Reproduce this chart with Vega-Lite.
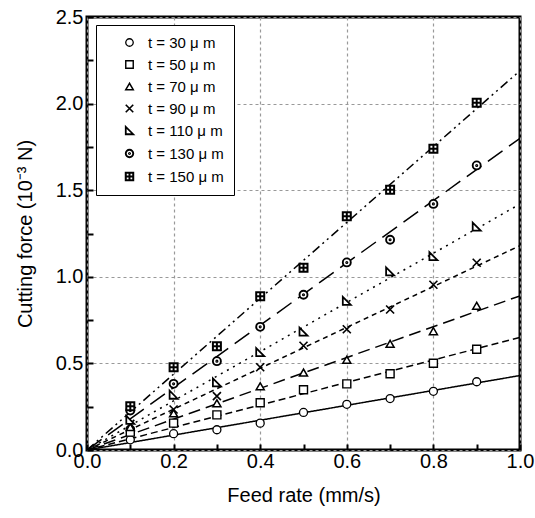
{
  "$schema": "https://vega.github.io/schema/vega-lite/v6.json",
  "width": 433,
  "height": 433,
  "autosize": {"type": "none"},
  "padding": {"left": 87, "top": 17, "right": 15, "bottom": 68},
  "config": {
    "font": "Liberation Sans",
    "view": {"stroke": "black", "strokeWidth": 3},
    "axis": {
      "domain": false,
      "tickColor": "black",
      "tickWidth": 2,
      "tickSize": -6,
      "labelColor": "black",
      "titleColor": "black",
      "labelFontSize": 20,
      "titleFontSize": 20,
      "titleFontWeight": "normal",
      "labelFlush": false,
      "labelOverlap": false,
      "grid": true,
      "gridColor": "#999999",
      "gridDash": [3, 3],
      "gridWidth": 1.2
    }
  },
  "datasets": {
    "points": [
      {"series": "t = 30 μ m", "x": 0.1, "y": 0.059},
      {"series": "t = 30 μ m", "x": 0.2, "y": 0.094},
      {"series": "t = 30 μ m", "x": 0.3, "y": 0.117},
      {"series": "t = 30 μ m", "x": 0.4, "y": 0.155},
      {"series": "t = 30 μ m", "x": 0.5, "y": 0.217},
      {"series": "t = 30 μ m", "x": 0.6, "y": 0.264},
      {"series": "t = 30 μ m", "x": 0.7, "y": 0.297},
      {"series": "t = 30 μ m", "x": 0.8, "y": 0.339},
      {"series": "t = 30 μ m", "x": 0.9, "y": 0.394},
      {"series": "t = 50 μ m", "x": 0.1, "y": 0.103},
      {"series": "t = 50 μ m", "x": 0.2, "y": 0.155},
      {"series": "t = 50 μ m", "x": 0.3, "y": 0.203},
      {"series": "t = 50 μ m", "x": 0.4, "y": 0.273},
      {"series": "t = 50 μ m", "x": 0.5, "y": 0.348},
      {"series": "t = 50 μ m", "x": 0.6, "y": 0.382},
      {"series": "t = 50 μ m", "x": 0.7, "y": 0.44},
      {"series": "t = 50 μ m", "x": 0.8, "y": 0.501},
      {"series": "t = 50 μ m", "x": 0.9, "y": 0.582},
      {"series": "t = 70 μ m", "x": 0.1, "y": 0.132},
      {"series": "t = 70 μ m", "x": 0.2, "y": 0.212},
      {"series": "t = 70 μ m", "x": 0.3, "y": 0.27},
      {"series": "t = 70 μ m", "x": 0.4, "y": 0.368},
      {"series": "t = 70 μ m", "x": 0.5, "y": 0.447},
      {"series": "t = 70 μ m", "x": 0.6, "y": 0.521},
      {"series": "t = 70 μ m", "x": 0.7, "y": 0.613},
      {"series": "t = 70 μ m", "x": 0.8, "y": 0.686},
      {"series": "t = 70 μ m", "x": 0.9, "y": 0.833},
      {"series": "t = 90 μ m", "x": 0.1, "y": 0.151},
      {"series": "t = 90 μ m", "x": 0.2, "y": 0.234},
      {"series": "t = 90 μ m", "x": 0.3, "y": 0.311},
      {"series": "t = 90 μ m", "x": 0.4, "y": 0.478},
      {"series": "t = 90 μ m", "x": 0.5, "y": 0.602},
      {"series": "t = 90 μ m", "x": 0.6, "y": 0.697},
      {"series": "t = 90 μ m", "x": 0.7, "y": 0.811},
      {"series": "t = 90 μ m", "x": 0.8, "y": 0.954},
      {"series": "t = 90 μ m", "x": 0.9, "y": 1.081},
      {"series": "t = 110 μ m", "x": 0.1, "y": 0.174},
      {"series": "t = 110 μ m", "x": 0.2, "y": 0.319},
      {"series": "t = 110 μ m", "x": 0.3, "y": 0.391},
      {"series": "t = 110 μ m", "x": 0.4, "y": 0.565},
      {"series": "t = 110 μ m", "x": 0.5, "y": 0.684},
      {"series": "t = 110 μ m", "x": 0.6, "y": 0.861},
      {"series": "t = 110 μ m", "x": 0.7, "y": 1.031},
      {"series": "t = 110 μ m", "x": 0.8, "y": 1.119},
      {"series": "t = 110 μ m", "x": 0.9, "y": 1.29},
      {"series": "t = 130 μ m", "x": 0.1, "y": 0.228},
      {"series": "t = 130 μ m", "x": 0.2, "y": 0.382},
      {"series": "t = 130 μ m", "x": 0.3, "y": 0.513},
      {"series": "t = 130 μ m", "x": 0.4, "y": 0.711},
      {"series": "t = 130 μ m", "x": 0.5, "y": 0.896},
      {"series": "t = 130 μ m", "x": 0.6, "y": 1.083},
      {"series": "t = 130 μ m", "x": 0.7, "y": 1.214},
      {"series": "t = 130 μ m", "x": 0.8, "y": 1.421},
      {"series": "t = 130 μ m", "x": 0.9, "y": 1.643},
      {"series": "t = 150 μ m", "x": 0.1, "y": 0.253},
      {"series": "t = 150 μ m", "x": 0.2, "y": 0.478},
      {"series": "t = 150 μ m", "x": 0.3, "y": 0.599},
      {"series": "t = 150 μ m", "x": 0.4, "y": 0.888},
      {"series": "t = 150 μ m", "x": 0.5, "y": 1.052},
      {"series": "t = 150 μ m", "x": 0.6, "y": 1.35},
      {"series": "t = 150 μ m", "x": 0.7, "y": 1.502},
      {"series": "t = 150 μ m", "x": 0.8, "y": 1.739},
      {"series": "t = 150 μ m", "x": 0.9, "y": 2.005}
    ],
    "fits": [
      {"t": 30, "x": 0, "y": 0},
      {"t": 30, "x": 1, "y": 0.43},
      {"t": 50, "x": 0, "y": 0},
      {"t": 50, "x": 1, "y": 0.65},
      {"t": 70, "x": 0, "y": 0},
      {"t": 70, "x": 1, "y": 0.89},
      {"t": 90, "x": 0, "y": 0},
      {"t": 90, "x": 1, "y": 1.18},
      {"t": 110, "x": 0, "y": 0},
      {"t": 110, "x": 1, "y": 1.42},
      {"t": 130, "x": 0, "y": 0},
      {"t": 130, "x": 1, "y": 1.8},
      {"t": 150, "x": 0, "y": 0},
      {"t": 150, "x": 1, "y": 2.19}
    ]
  },
  "encoding": {
    "x": {
      "field": "x",
      "type": "quantitative",
      "scale": {"domain": [0, 1], "nice": false},
      "axis": {
        "title": "Feed rate (mm/s)",
        "values": [0, 0.1, 0.2, 0.3, 0.4, 0.5, 0.6, 0.7, 0.8, 0.9, 1.0],
        "labelExpr": "round(datum.value*10)%2==0 ? format(datum.value,'.1f') : ''",
        "gridOpacity": {"condition": {"test": "round(datum.value*10)%2==0", "value": 1}, "value": 0},
        "labelPadding": 7,
        "titlePadding": 14
      }
    },
    "y": {
      "field": "y",
      "type": "quantitative",
      "scale": {"domain": [0, 2.5], "nice": false},
      "axis": {
        "title": "Cutting force (10⁻³ N)",
        "values": [0, 0.25, 0.5, 0.75, 1.0, 1.25, 1.5, 1.75, 2.0, 2.25, 2.5],
        "labelExpr": "round(datum.value*4)%2==0 ? format(datum.value,'.1f') : ''",
        "gridOpacity": {"condition": {"test": "round(datum.value*4)%2==0", "value": 1}, "value": 0},
        "labelPadding": 10,
        "titlePadding": 20
      }
    }
  },
  "layer": [
    {
      "data": {"name": "fits"},
      "mark": {"type": "line", "stroke": "black", "strokeWidth": 1.5, "clip": true},
      "encoding": {
        "detail": {"field": "t", "type": "nominal"},
        "strokeDash": {
          "field": "t",
          "type": "nominal",
          "scale": {
            "domain": [30, 50, 70, 90, 110, 130, 150],
            "range": [[1, 0], [7, 4], [12, 6], [5, 4], [2, 5], [18, 8], [9, 4, 2, 4, 2, 4]]
          },
          "legend": null
        }
      }
    },
    {
      "data": {"name": "points"},
      "mark": {"type": "point", "filled": false, "fill": "white", "size": 64, "opacity": 1},
      "encoding": {
        "color": {
          "field": "series",
          "type": "nominal",
          "scale": {
            "domain": ["t = 30 μ m", "t = 50 μ m", "t = 70 μ m", "t = 90 μ m", "t = 110 μ m", "t = 130 μ m", "t = 150 μ m"],
            "range": ["black", "black", "black", "black", "black", "black", "black"]
          },
          "legend": {
            "title": null,
            "orient": "none",
            "legendX": 9,
            "legendY": 8,
            "strokeColor": "black",
            "fillColor": "white",
            "padding": 10,
            "symbolOffset": 16,
            "labelOffset": 11,
            "labelFontSize": 15,
            "labelColor": "black",
            "symbolSize": 56,
            "rowPadding": 6,
            "labelLimit": 200
          }
        },
        "strokeWidth": {
          "field": "series",
          "type": "nominal",
          "scale": {
            "domain": ["t = 30 μ m", "t = 50 μ m", "t = 70 μ m", "t = 90 μ m", "t = 110 μ m", "t = 130 μ m", "t = 150 μ m"],
            "range": [1.3, 2, 1.6, 2, 1.6, 1.3, 2.5]
          },
          "legend": {
            "title": null,
            "orient": "none",
            "legendX": 9,
            "legendY": 8,
            "strokeColor": "black",
            "fillColor": "white",
            "padding": 10,
            "symbolOffset": 16,
            "labelOffset": 11,
            "labelFontSize": 15,
            "labelColor": "black",
            "symbolSize": 56,
            "rowPadding": 6,
            "labelLimit": 200
          }
        },
        "shape": {
          "field": "series",
          "type": "nominal",
          "scale": {
            "domain": ["t = 30 μ m", "t = 50 μ m", "t = 70 μ m", "t = 90 μ m", "t = 110 μ m", "t = 130 μ m", "t = 150 μ m"],
            "range": [
              "circle",
              "square",
              "triangle-up",
              "M-1,-1L1,1M-1,1L1,-1",
              "M-1,-1L-1,1L1,1Z",
              "M-1,0A1,1,0,1,0,1,0A1,1,0,1,0,-1,0Z M-0.15,0A0.15,0.15,0,1,0,0.15,0A0.15,0.15,0,1,0,-0.15,0Z",
              "M-1,-1H1V1H-1Z M0,-1V1 M-1,0H1"
            ]
          },
          "legend": {
            "title": null,
            "orient": "none",
            "legendX": 9,
            "legendY": 8,
            "strokeColor": "black",
            "fillColor": "white",
            "padding": 10,
            "symbolOffset": 16,
            "labelOffset": 11,
            "labelFontSize": 15,
            "labelColor": "black",
            "symbolSize": 56,
            "rowPadding": 6,
            "labelLimit": 200
          }
        }
      }
    }
  ]
}
